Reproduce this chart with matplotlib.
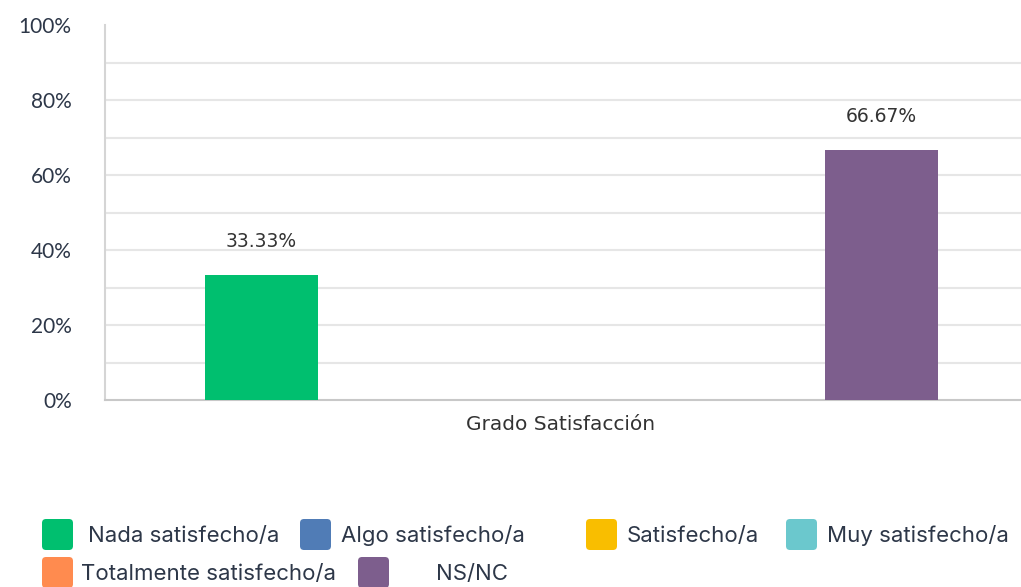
import matplotlib
matplotlib.use("Agg")
import matplotlib.pyplot as plt
from matplotlib.patches import FancyBboxPatch
from matplotlib.transforms import IdentityTransform, ScaledTranslation
from matplotlib.ticker import MultipleLocator, FuncFormatter
import numpy as np

# data
category = ["Grado Satisfacción"]
series = [
    "Nada satisfecho/a",
    "Algo satisfecho/a",
    "Satisfecho/a",
    "Muy satisfecho/a",
    "Totalmente satisfecho/a",
    "NS/NC",
]
values = [33.33, 0.0, 0.0, 0.0, 0.0, 66.67]
colors = ["#00BF6F", "#507CB6", "#F9BE00", "#6BC8CD", "#FF8B4F", "#7D5E8D"]

tick_color = "#2D3748"

fig = plt.figure(figsize=(10.21, 5.87), dpi=100)
ax = fig.add_axes([105 / 1021, 1 - 400 / 587, 1 - 105 / 1021, 375 / 587])

n = len(series)
offsets = np.arange(n) - (n - 1) / 2
width = 113 / 124
for off, val, col in zip(offsets, values, colors):
    bars = ax.bar(off, val, width, color=col, zorder=3)
    if val > 0:
        ax.annotate("{0:.2f}%".format(val), xy=(off, val), xytext=(0, 17),
                    textcoords="offset points", ha="center", va="bottom",
                    fontsize=13.5, color="#333333", family="DejaVu Sans")

ax.set_xlim(-3.762, 3.625)
ax.set_ylim(0, 100)
ax.set_xticks([0])
ax.set_xticklabels(category, fontsize=14.5, color="#333333", family="DejaVu Sans")
ax.tick_params(axis="x", length=0, pad=11)
# nudge category label slightly left, as in the original
shift = ScaledTranslation(-11 / 100, 0, fig.dpi_scale_trans)
for t in ax.get_xticklabels():
    t.set_transform(t.get_transform() + shift)

ax.yaxis.set_major_locator(MultipleLocator(20))
ax.yaxis.set_major_formatter(FuncFormatter(lambda v, p: "{0:.0f}%".format(v)))
ax.tick_params(axis="y", length=0, pad=24, labelsize=15, labelcolor=tick_color)
for t in ax.get_yticklabels():
    t.set_family("Lato")

# grid every 10% (no line at the top)
for y in np.arange(10, 100, 10):
    ax.axhline(y, color="#E6E6E6", lw=1.5, zorder=1)

for s in ["top", "right"]:
    ax.spines[s].set_visible(False)
ax.spines["left"].set_color("#D5D5D5")
ax.spines["left"].set_linewidth(1.5)
ax.spines["bottom"].set_color("#C8C8C8")
ax.spines["bottom"].set_linewidth(1.5)

# custom legend (pixel positions, y measured from top)
legend_pos = [
    (42, 535, 88),
    (300, 535, 341),
    (586, 535, 627),
    (786, 535, 827),
    (42, 573, 81),
    (358, 573, 436),
]
H = 587
for (sx, sy, tx), lab, col in zip(legend_pos, series, colors):
    box = FancyBboxPatch((sx, H - sy - 15), 31, 31,
                         boxstyle="round,pad=0,rounding_size=4",
                         facecolor=col, edgecolor="none",
                         transform=IdentityTransform())
    fig.add_artist(box)
    fig.text(tx / 1021, 1 - (sy + 1) / H, lab, ha="left", va="center",
             fontsize=16, color=tick_color, family="Inter")

fig.savefig("out.png", dpi=100)
